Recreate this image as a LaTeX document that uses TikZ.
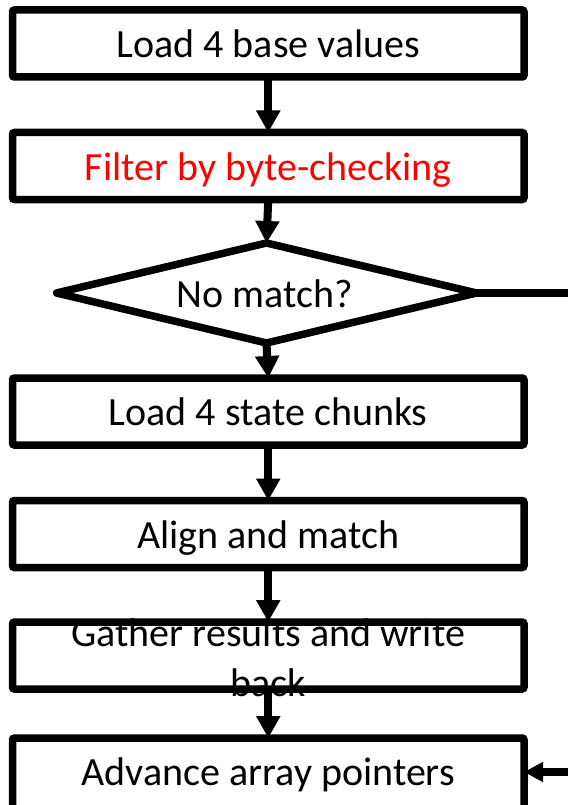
\documentclass[tikz,border=0pt]{standalone}
\usepackage{fontspec}
\setmainfont{Carlito}
\usetikzlibrary{arrows.meta,shapes.geometric}
\begin{document}
\begin{tikzpicture}[x=1pt,y=-1pt,
  bigfont/.style={font=\fontsize{40}{50}\selectfont},
  box/.style={draw=black, line width=7.5pt, rounded corners=2pt,
    minimum width=511.5pt, minimum height=67pt, inner sep=0pt, outer sep=0pt,
    text height=28pt, text depth=0pt, bigfont},
  dec/.style={diamond, draw=black, line width=7.5pt, line join=round,
    minimum width=420pt, minimum height=100pt, inner sep=0pt, outer sep=0pt},
  flow/.style={line width=8pt, -{Triangle[width=23pt,length=22pt]}},
  sideflow/.style={line width=8pt, -{Triangle[width=19pt,length=19pt]}},
  plain/.style={line width=8pt},
  lbl/.style={bigfont, align=center, inner sep=0pt}]
\useasboundingbox (0,0) rectangle (568,805);
\node[box] (b1) at (268.25,43.5) {Load 4 base values};
\node[box, text=red] (b2) at (268.25,166) {Filter by byte-checking};
\node[dec] (d) at (266.5,293) {};
\node[lbl, anchor=base] (td) at (265,307) {No match?};
\node[box] (b3) at (268.25,411.5) {Load 4 state chunks};
\node[box] (b4) at (268.25,534) {Align and match};
\node[box] (b5) at (268.25,655.5) {};
\node[box, minimum height=80pt] (b6) at (268.25,778) {};
\node[lbl, anchor=base] (t6) at (268.25,785) {Advance array pointers};
\coordinate (r1) at (568,293);
\coordinate (r2) at (568,772);
\draw[flow] (b1.south) -- (b2.north);
\draw[flow] (b2.south) -- (d.north);
\draw[flow] (d.south) -- (b3.north);
\draw[flow] (b3.south) -- (b4.north);
\draw[flow] (b4.south) -- (b5.north);
\draw[flow] (b5.south) -- (b6.north);
\draw[plain] (d.east) -- (r1);
\draw[sideflow] (r2) -- (r2 -| b6.east);
\node[lbl, anchor=base] (t5) at (268.25,696) {Gather results and write\\back};
\end{tikzpicture}
\end{document}
